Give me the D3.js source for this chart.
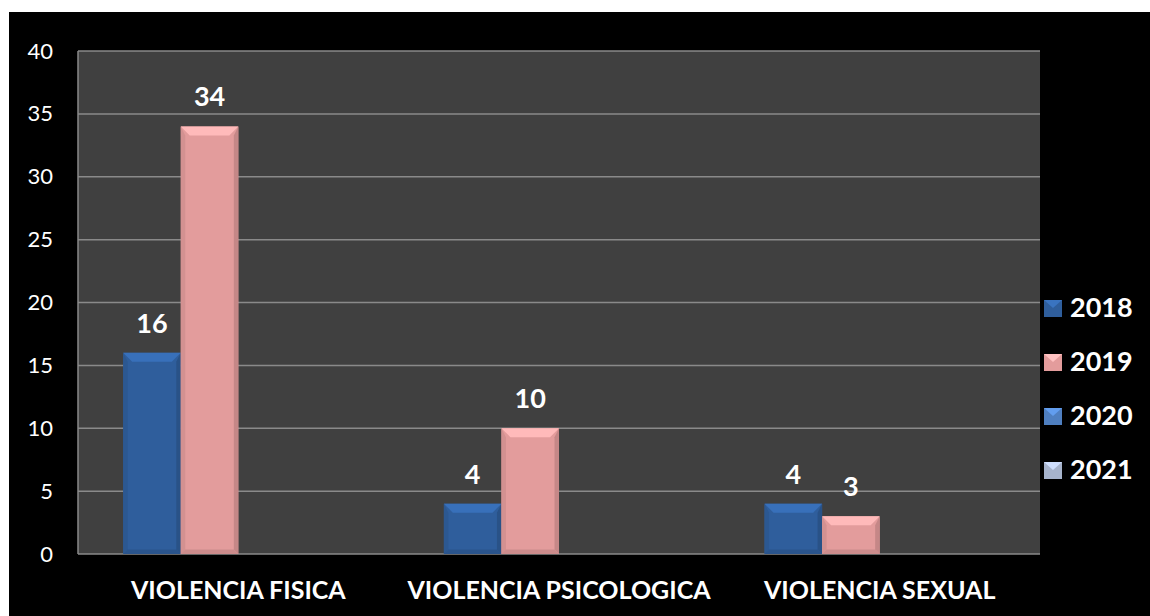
<!DOCTYPE html>
<html>
<head>
<meta charset="utf-8">
<script src="https://cdn.jsdelivr.net/npm/d3@7"></script>
<style>
  body { margin: 0; background: #ffffff; }
  svg text { font-family: Lato, "Open Sans", sans-serif; font-weight: bold; fill: #ffffff; }
</style>
</head>
<body>
<div id="chart"></div>
<script>
var categories = ["VIOLENCIA FISICA", "VIOLENCIA PSICOLOGICA", "VIOLENCIA SEXUAL"];
var years = ["2018", "2019", "2020", "2021"];
var values2018 = [16, 4, 4];
var values2019 = [34, 10, 3];
var values2020 = [null, null, null];
var values2021 = [null, null, null];
var yTicks = [0, 5, 10, 15, 20, 25, 30, 35, 40];
var colors = ["#2f5e9c", "#e39c9c", "#4f7fc0", "#a6b3cc"];

var w = 1150, h = 616;
var plot = { left: 78, top: 51, right: 1040, bottom: 554 };

var series = [values2018, values2019, values2020, values2021];

var svg = d3.select("#chart").append("svg")
    .attr("width", w)
    .attr("height", h);

// black panel with a thin white margin on top/left
svg.append("rect")
    .attr("x", 9).attr("y", 12)
    .attr("width", w - 9).attr("height", h - 12)
    .attr("fill", "#000000");

var xScale = d3.scaleBand()
    .domain(categories)
    .range([plot.left, plot.right])
    .paddingInner(0.282)
    .paddingOuter(0.141);

var xInner = d3.scaleBand()
    .domain(years)
    .range([0, xScale.bandwidth()]);

var yScale = d3.scaleLinear()
    .domain([0, 40])
    .range([plot.bottom, plot.top]);

svg.append("rect")
    .attr("x", plot.left).attr("y", plot.top)
    .attr("width", plot.right - plot.left)
    .attr("height", plot.bottom - plot.top)
    .attr("fill", "#404040");

// gridlines
svg.append("g").selectAll("line")
    .data(yTicks)
    .enter().append("line")
    .attr("x1", plot.left).attr("x2", plot.right)
    .attr("y1", function(d) { return yScale(d); })
    .attr("y2", function(d) { return yScale(d); })
    .attr("stroke", "#8a8a8a")
    .attr("stroke-width", 1.5);

svg.append("line")
    .attr("x1", plot.left).attr("x2", plot.left)
    .attr("y1", plot.top).attr("y2", plot.bottom)
    .attr("stroke", "#8a8a8a").attr("stroke-width", 1.5);

// y axis labels
var yAxis = d3.axisLeft(yScale).tickValues(yTicks).tickSize(0).tickPadding(25);
var yG = svg.append("g")
    .attr("transform", "translate(" + plot.left + ",0)")
    .call(yAxis);
yG.select(".domain").remove();
yG.selectAll("text")
    .style("font-family", "Lato, sans-serif")
    .style("font-weight", "normal")
    .style("font-size", "22px")
    .attr("fill", "#ffffff");

// x axis labels
var xAxis = d3.axisBottom(xScale).tickSize(0).tickPadding(27);
var xG = svg.append("g")
    .attr("transform", "translate(0," + plot.bottom + ")")
    .call(xAxis);
xG.select(".domain").remove();
xG.selectAll("text")
    .style("font-family", "Lato, sans-serif")
    .style("font-weight", "bold")
    .style("font-size", "25px")
    .attr("fill", "#ffffff");

function shade(c, k) {
    return k > 0 ? d3.color(c).brighter(k).formatHex() : d3.color(c).darker(-k).formatHex();
}

// bars with a small bevel
var bev = 9;
var bars = [];
categories.forEach(function(cat, i) {
    series.forEach(function(s, j) {
        if (s[i] == null) return;
        bars.push({ cat: cat, year: years[j], value: s[i], color: colors[j] });
    });
});

var barG = svg.append("g").selectAll("g")
    .data(bars)
    .enter().append("g")
    .attr("transform", function(d) {
        return "translate(" + (xScale(d.cat) + xInner(d.year)) + "," + yScale(d.value) + ")";
    });

var bw = xInner.bandwidth();
barG.append("rect")
    .attr("width", bw)
    .attr("height", function(d) { return plot.bottom - yScale(d.value); })
    .attr("fill", function(d) { return d.color; });

// top bevel
barG.append("path")
    .attr("d", "M0,0 L" + bw + ",0 L" + (bw - bev) + "," + bev + " L" + bev + "," + bev + "Z")
    .attr("fill", function(d) { return shade(d.color, 0.5); });
// left bevel
barG.append("path")
    .attr("d", function(d) {
        var bh = plot.bottom - yScale(d.value);
        return "M0,0 L" + bev / 2 + "," + bev + " L" + bev / 2 + "," + (bh - bev / 2) + " L0," + bh + "Z";
    })
    .attr("fill", function(d) { return shade(d.color, -0.2); });
// right bevel
barG.append("path")
    .attr("d", function(d) {
        var bh = plot.bottom - yScale(d.value);
        return "M" + bw + ",0 L" + (bw - bev / 2) + "," + bev + " L" + (bw - bev / 2) + "," + (bh - bev / 2) + " L" + bw + "," + bh + "Z";
    })
    .attr("fill", function(d) { return shade(d.color, -0.4); });
// bottom bevel
barG.append("path")
    .attr("d", function(d) {
        var bh = plot.bottom - yScale(d.value);
        return "M0," + bh + " L" + bev / 2 + "," + (bh - bev / 2) + " L" + (bw - bev / 2) + "," + (bh - bev / 2) + " L" + bw + "," + bh + "Z";
    })
    .attr("fill", function(d) { return shade(d.color, -0.3); });

// value labels
svg.append("g").selectAll("text")
    .data(bars)
    .enter().append("text")
    .attr("x", function(d) { return xScale(d.cat) + xInner(d.year) + bw / 2; })
    .attr("y", function(d) { return yScale(d.value) - 20; })
    .attr("text-anchor", "middle")
    .style("font-size", "27px")
    .text(function(d) { return d.value; });

// legend
var legend = svg.append("g").selectAll("g")
    .data(years)
    .enter().append("g")
    .attr("transform", function(d, i) { return "translate(1044," + (300 + i * 54) + ")"; });

legend.append("rect")
    .attr("width", 18).attr("height", 17)
    .attr("fill", function(d, i) { return colors[i]; });
legend.append("path")
    .attr("d", "M0,0 L18,0 L9,8Z")
    .attr("fill", function(d, i) { return shade(colors[i], 0.6); });

legend.append("text")
    .attr("x", 26).attr("y", 17)
    .style("font-size", "27px")
    .text(function(d) { return d; });
</script>
</body>
</html>
